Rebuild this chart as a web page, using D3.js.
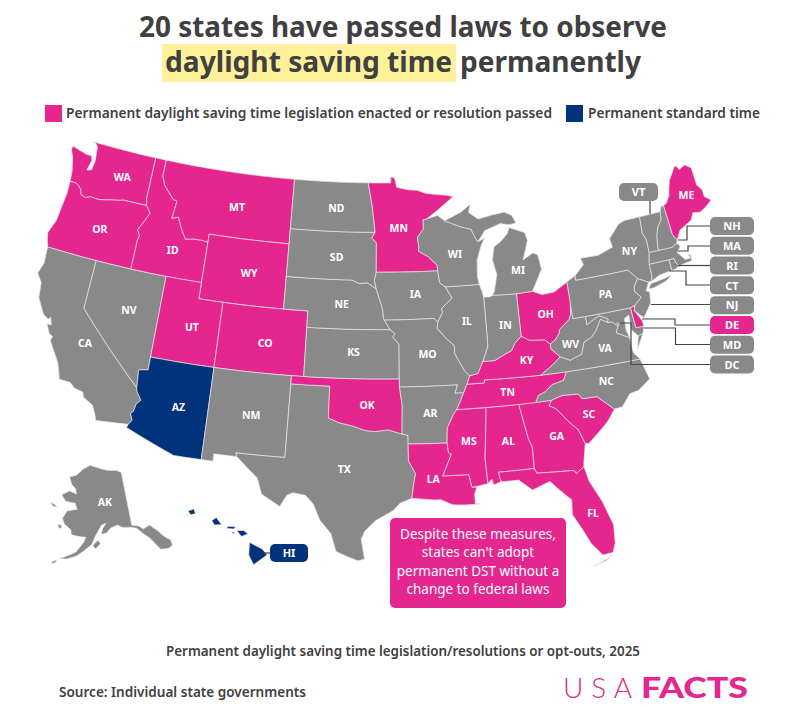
<!DOCTYPE html>
<html>
<head>
<meta charset="utf-8">
<script src="https://cdn.jsdelivr.net/npm/d3@7"></script>
<style>
  html, body { margin: 0; padding: 0; background: #fff; }
  text { font-family: "Noto Sans", sans-serif; }
</style>
</head>
<body>
<div id="map"></div>
<script>
// states by category
const dstStates = ["WA","OR","ID","MT","WY","UT","CO","OK","MN","LA","MS","AL","GA","FL","SC","TN","KY","OH","DE","ME"];
const standardStates = ["AZ","HI"];

// shared river borders, lon/lat
const columbia = [[-124,46.25],[-123.5,46.25],[-123.2,46.15],[-122.9,45.95],[-122.75,45.65],[-122.3,45.55],[-121.9,45.68],[-121.2,45.65],[-120.6,45.73],[-119.9,45.85],[-119.3,45.93],[-118.98,46],[-116.92,46]];
const snake = [[-116.92,46],[-116.46,45.6],[-116.85,44.95],[-117.2,44.45],[-117.03,44.2],[-116.93,44.1],[-117.03,43.8],[-117.03,42]];
const bitterroot = [[-116.05,48],[-115.7,47.45],[-114.7,46.7],[-114.35,46.65],[-114.5,45.55],[-113.95,45.7],[-113.45,44.95],[-113,44.45],[-112.3,44.55],[-111.5,44.55],[-111.05,44.48]];
const colorado = [[-114.63,35],[-114.57,34.8],[-114.14,34.3],[-114.44,34],[-114.53,33.55],[-114.72,33.4],[-114.5,33],[-114.72,32.72]];
const redRiver = [[-100,34.56],[-99.2,34.3],[-98.1,34.1],[-97.2,33.85],[-96.5,33.8],[-95.5,33.9],[-94.48,33.64]];
const missouriUpper = [[-95.31,40],[-95.85,40.7],[-95.9,41.2],[-96.1,41.7],[-96.45,42.49]];
const missArk = [[-90.3,35],[-90.6,34.7],[-91.1,33.9],[-91.17,33]];
const missLa = [[-91.17,33],[-91.1,32.4],[-90.9,32.3],[-91.6,31]];
const missIll = [[-91.42,40.38],[-91.5,40],[-90.75,39.3],[-90.2,38.9],[-90.2,38.4],[-89.5,37.3],[-89.15,37]];
const ohioKy = [[-89.15,37],[-88.5,37.1],[-88.05,37.8]];
const ohioKyIn = [[-88.05,37.8],[-87.1,37.8],[-86.3,38.1],[-85.7,38.3],[-85.4,38.7],[-84.82,39.1]];
const ohioKyOh = [[-84.82,39.1],[-84.2,38.8],[-83,38.7],[-82.6,38.4]];
const ohioWv = [[-82.6,38.4],[-82.2,38.6],[-81.8,38.95],[-81.7,39.2],[-80.85,39.7],[-80.65,40],[-80.52,40.64]];
const kyVaWv = [[-83.68,36.6],[-82.7,37.1],[-81.97,37.54]];
const vaWv = [[-81.97,37.54],[-81.25,37.25],[-80.3,37.5],[-79.95,38.2],[-79.3,38.42],[-78.87,38.76],[-78.35,39.4],[-77.83,39.13]];
const tnNc = [[-81.68,36.59],[-82,36.1],[-82.9,35.95],[-83.5,35.57],[-84.05,35.4],[-84.32,34.99]];
const savannah = [[-83.1,35],[-83.35,34.7],[-82.85,34.45],[-81.9,33.4],[-81.45,33],[-81.1,32.1]];
const delaware = [[-75.4,39.8],[-74.75,40.2],[-75.2,40.65],[-75.1,40.95],[-74.7,41.36]];
const umBorder = [[-91.22,43.5],[-91.25,43.85],[-92,44.4],[-92.8,44.75],[-92.75,45],[-92.85,45.6],[-92.3,46.1],[-92.3,46.66],[-92,46.7]];
const upWis = [[-90.4,46.55],[-89.1,46.13],[-88.1,45.9],[-87.8,45.35],[-87.6,45.1]];
const vtNh = [[-71.5,45],[-71.6,44.5],[-72.05,44.1],[-72.3,43.6],[-72.45,43],[-72.46,42.73]];
const rev = a => a.slice().reverse();

// outlines, each state is a list of rings
const stateOutlines = {
  WA: [[[-124.7,48.38],[-124.72,48.15],[-124.4,47.7],[-124.1,46.9],...columbia,[-117.04,46.4],[-117.04,49],[-123.03,49],[-122.75,48.95],[-122.5,48.75],[-122.45,48.4],[-122.35,47.9],[-122.45,47.3],[-122.85,47.2],[-122.65,47.85],[-122.8,48.13],[-123.3,48.13]]],
  OR: [[...rev(columbia).slice(0,-1),[-124,46.25],[-123.95,45.5],[-124.05,44.7],[-124.15,43.7],[-124.55,42.84],[-124.4,42.4],[-124.2,42],...rev(snake)]],
  CA: [[[-124.2,42],[-120,42],[-120,39],...colorado,[-117.12,32.53],[-117.25,32.85],[-117.6,33.4],[-118.4,33.75],[-118.5,34.03],[-119.2,34.15],[-119.6,34.42],[-120.47,34.45],[-120.65,34.9],[-120.9,35.4],[-121.9,36.6],[-121.8,36.85],[-122.1,36.95],[-122.5,37.5],[-122.15,37.5],[-122.35,37.95],[-122.5,37.8],[-122.97,38],[-123.7,38.9],[-123.85,39.8],[-124.35,40.3],[-124.1,41]]],
  NV: [[[-120,42],[-114.04,42],[-114.04,36.2],[-114.75,36.1],[-114.63,35],[-120,39]]],
  ID: [[[-117.04,49],[-116.05,49],...bitterroot,[-111.05,42],...rev(snake),[-117.04,46.4]]],
  MT: [[[-116.05,49],[-104.05,49],[-104.05,45],[-111.05,45],...rev(bitterroot)]],
  WY: [[[-111.05,45],[-104.05,45],[-104.05,41],[-111.05,41]]],
  UT: [[[-114.04,42],[-111.05,42],[-111.05,41],[-109.05,41],[-109.05,37],[-114.04,37]]],
  CO: [[[-109.05,41],[-102.05,41],[-102.05,37],[-109.05,37]]],
  AZ: [[[-114.04,37],[-109.05,37],[-109.05,31.33],[-111.07,31.33],[-114.8,32.5],...rev(colorado),[-114.75,36.1],[-114.04,36.2]]],
  NM: [[[-109.05,37],[-103,37],[-103.04,32],[-106.62,32],[-106.53,31.78],[-108.2,31.78],[-108.2,31.33],[-109.05,31.33]]],
  TX: [[[-103,36.5],[-100,36.5],...redRiver,[-94.04,33.55],[-94.04,31.99],[-93.55,31.2],[-93.7,30.6],[-93.85,29.7],[-94.7,29.4],[-95.2,28.95],[-96.4,28.35],[-97.15,27.7],[-97.4,27.2],[-97.15,25.96],[-97.6,25.85],[-98.2,26.05],[-99.1,26.4],[-99.5,27.5],[-100.3,28.3],[-100.8,29.25],[-101.4,29.77],[-102.3,29.88],[-102.7,29.7],[-103.15,28.98],[-104.5,29.65],[-104.9,30.6],[-106.53,31.78],[-106.62,32],[-103.04,32]]],
  OK: [[[-103,37],[-94.62,37],[-94.62,36.5],[-94.43,35.4],...rev(redRiver),[-100,36.5],[-103,36.5]]],
  KS: [[[-102.05,40],[-95.31,40],[-94.9,39.75],[-95.1,39.55],[-94.61,39.11],[-94.62,37],[-102.05,37]]],
  NE: [[[-104.05,43],[-98.5,43],[-97.9,42.8],[-97.2,42.85],...rev(missouriUpper),[-102.05,40],[-102.05,41],[-104.05,41]]],
  SD: [[[-104.05,45.94],[-96.56,45.94],[-96.85,45.6],[-96.45,45.3],[-96.45,43.5],[-96.6,43],[-96.45,42.49],[-97.2,42.85],[-97.9,42.8],[-98.5,43],[-104.05,43]]],
  ND: [[[-104.05,49],[-97.23,49],[-96.85,47.6],[-96.56,45.94],[-104.05,45.94]]],
  MN: [[[-97.23,49],[-95.15,49],[-95.15,49.38],[-94.8,49.3],[-94.6,48.72],[-93.5,48.55],[-92.7,48.5],[-92,48.3],[-91,48.2],[-90,48.1],[-89.5,48],[-90.8,47.3],...rev(umBorder),[-96.45,43.5],[-96.45,45.3],[-96.85,45.6],[-96.56,45.94],[-96.85,47.6]]],
  IA: [[[-96.45,43.5],[-91.22,43.5],[-91.1,42.75],[-90.65,42.5],[-90.15,41.8],[-91.05,41.2],[-91,40.95],[-91.42,40.38],[-91.73,40.61],[-95.77,40.58],[-95.85,40.7],[-95.9,41.2],[-96.1,41.7],[-96.45,42.49],[-96.6,43]]],
  MO: [[[-95.77,40.58],[-91.73,40.61],...missIll,[-89.4,36.5],[-89.7,36],[-90.37,36],[-90.15,36.5],[-94.62,36.5],[-94.62,37],[-94.61,39.11],[-95.1,39.55],[-94.9,39.75],[-95.31,40]]],
  AR: [[[-94.62,36.5],[-90.15,36.5],[-90.37,36],[-89.7,36],...missArk,[-94.04,33.02],[-94.04,33.55],[-94.48,33.64],[-94.43,35.4]]],
  LA: [[[-94.04,33.02],...missLa,[-89.73,31],[-89.55,30.2],[-89.2,30.2],[-89.4,29.8],[-89.4,29.2],[-89,29.15],[-90.1,29.15],[-91,29.2],[-91.8,29.55],[-92.3,29.55],[-93.85,29.7],[-93.7,30.6],[-93.55,31.2],[-94.04,31.99]]],
  MS: [[[-90.3,35],[-88.2,35],[-88.1,34.9],[-88.47,31.9],[-88.4,30.35],[-89.55,30.2],[-89.73,31],...rev(missLa),...rev(missArk).slice(1)]],
  AL: [[[-88.2,35],[-85.6,35],[-85.18,32.87],[-84.95,32.3],[-85,31],[-87.6,31],[-87.45,30.4],[-88,30.25],[-88.1,30.6],[-88.4,30.35],[-88.47,31.9],[-88.1,34.9]]],
  GA: [[[-85.6,35],...savannah,[-81.4,31],[-81.45,30.72],[-82.05,30.36],[-82.2,30.57],[-84.86,30.7],[-85,31],[-84.95,32.3],[-85.18,32.87]]],
  FL: [[[-87.6,31],[-85,31],[-84.86,30.7],[-82.2,30.57],[-82.05,30.36],[-81.45,30.72],[-81.25,29.8],[-80.55,28.4],[-80.05,26.9],[-80.15,25.75],[-80.4,25.2],[-81.1,25.15],[-81.75,25.95],[-82.2,26.9],[-82.75,27.9],[-82.65,28.8],[-83.4,29.5],[-84,30.1],[-85.3,29.7],[-86.2,30.4],[-87.45,30.4]],
       [[-81.8,24.55],[-81,24.75],[-80.4,25.1],[-80.9,24.85]]],
  SC: [[...savannah,[-80.85,32.05],[-79.9,32.7],[-79.2,33.2],[-78.55,33.86],[-79.67,34.8],[-80.8,34.82],[-81.05,35.15],[-82.3,35.2]]],
  NC: [[[-84.32,34.99],[-83.1,35],[-82.3,35.2],[-81.05,35.15],[-80.8,34.82],[-79.67,34.8],[-78.55,33.86],[-77.95,33.9],[-77.2,34.6],[-76.5,34.7],[-75.5,35.25],[-75.9,36.55],[-81.68,36.59],...tnNc.slice(1)]],
  TN: [[[-90.3,35],[-89.7,36],[-89.4,36.5],[-88.07,36.5],[-88.05,36.68],[-83.68,36.6],...tnNc,[-88.2,35]]],
  KY: [[[-89.4,36.5],[-89.15,37],[-88.5,37.1],[-88.05,37.8],...ohioKyIn.slice(1),...ohioKyOh.slice(1),[-82.6,38.1],[-81.97,37.54],[-82.7,37.1],[-83.68,36.6],[-88.05,36.68],[-88.07,36.5]]],
  VA: [[[-75.9,36.55],[-81.68,36.59],...kyVaWv,...vaWv.slice(1),[-77.5,39.1],[-77.05,38.8],[-77.3,38.4],[-76.35,37.95],[-76.3,37]],
       [[-75.95,37.15],[-75.25,38.03],[-75.65,37.95]]],
  WV: [[[-82.6,38.4],[-82.6,38.1],...vaWv,[-77.72,39.32],[-78.4,39.62],[-78.9,39.45],[-79.48,39.2],[-79.48,39.72],[-80.52,39.72],...rev(ohioWv)]],
  MD: [[[-79.48,39.72],[-75.79,39.72],[-75.7,38.46],[-75.05,38.45],[-75.25,38.03],[-75.65,37.95],[-76.1,38.4],[-76.05,39.3],[-76.45,39.15],[-76.5,38.5],[-76.35,37.95],[-77.3,38.4],[-77.05,38.8],[-77.5,39.1],[-77.83,39.13],[-77.72,39.32],[-78.4,39.62],[-78.9,39.45],[-79.48,39.2]]],
  DC: [[[-77.12,38.93],[-77.04,39],[-76.91,38.89],[-77.04,38.79]]],
  DE: [[[-75.79,39.72],[-75.4,39.8],[-75.55,39.5],[-75.1,38.8],[-75.05,38.45],[-75.7,38.46]]],
  PA: [[[-80.52,42],[-79.76,42.27],[-79.76,42],[-75.35,42],...rev(delaware),[-75.79,39.72],[-80.52,39.72]]],
  NJ: [[[-74.7,41.36],[-73.9,41],[-74.25,40.5],[-74,40.4],[-74.1,39.75],[-74.9,38.95],[-75.55,39.5],...delaware]],
  NY: [[[-79.76,42],[-79.76,42.27],[-78.9,42.85],[-79.05,43.27],[-77.5,43.25],[-76.5,43.5],[-76.2,43.55],[-76.3,44.1],[-75.3,44.85],[-74.7,45],[-73.35,45],[-73.45,44],[-73.25,43.55],[-73.27,42.75],[-73.5,42.05],[-73.5,41.3],[-73.65,41],[-73.9,41],[-74.7,41.36],[-75.35,42]],
       [[-74,40.6],[-73.75,40.87],[-72.6,40.98],[-71.9,41.07],[-72.5,40.8],[-73.6,40.58]]],
  CT: [[[-73.5,42.05],[-71.8,42.02],[-71.8,41.35],[-72.9,41.25],[-73.65,41],[-73.5,41.3]]],
  RI: [[[-71.8,42.02],[-71.38,42.02],[-71.33,41.75],[-71.12,41.5],[-71.5,41.37],[-71.8,41.35]]],
  MA: [[[-73.5,42.05],[-73.27,42.75],[-72.46,42.73],[-71.3,42.7],[-70.85,42.87],[-70.6,42.65],[-71,42.3],[-70.65,41.95],[-70.5,41.78],[-70,41.78],[-70.2,42.08],[-69.95,41.95],[-70,41.6],[-70.65,41.55],[-71.12,41.5],[-71.33,41.75],[-71.38,42.02],[-71.8,42.02]]],
  VT: [[[-73.35,45],...vtNh,[-73.27,42.75],[-73.25,43.55],[-73.45,44]]],
  NH: [[[-71.5,45],[-71.3,45.3],[-71.08,45.3],[-70.98,43.4],[-70.7,43.07],[-70.85,42.87],[-71.3,42.7],...rev(vtNh)]],
  ME: [[[-71.08,45.3],[-70.8,45.4],[-70.4,45.8],[-70.25,46.2],[-70,46.7],[-69.23,47.46],[-69.05,47.43],[-68.9,47.18],[-68.3,47.36],[-67.8,47.07],[-67.78,45.94],[-67.45,45.6],[-67.45,45.15],[-66.97,44.82],[-67.6,44.5],[-68.2,44.3],[-68.8,44.4],[-69.1,44],[-69.8,43.75],[-70.25,43.6],[-70.7,43.07],[-70.98,43.4]]],
  OH: [[[-84.82,39.1],[-84.8,41.7],[-83.45,41.73],[-82.7,41.45],[-81.7,41.5],[-80.52,41.98],...rev(ohioWv),...rev(ohioKyOh).slice(1)]],
  IN: [[[-87.53,41.71],[-87,41.67],[-86.8,41.76],[-84.8,41.7],[-84.82,39.1],...rev(ohioKyIn).slice(1),[-87.55,38.7],[-87.53,39.35]]],
  IL: [[[-87.53,41.71],[-87.53,39.35],[-87.55,38.7],[-88.05,37.8],...rev(ohioKy).slice(1),...rev(missIll).slice(1),[-91,40.95],[-91.05,41.2],[-90.15,41.8],[-90.65,42.5],[-87.8,42.5],[-87.6,42]]],
  WI: [[[-90.65,42.5],[-91.1,42.75],...umBorder,[-91,46.9],...upWis,[-87,45.3],[-87.35,44.85],[-87.8,44],[-87.9,43],[-87.8,42.5]]],
  MI: [[[-86.8,41.76],[-84.8,41.7],[-83.45,41.73],[-83.15,42.1],[-82.45,43],[-82.6,43.9],[-83,44.05],[-83.9,43.7],[-83.3,44.85],[-83.45,45.35],[-84.75,45.78],[-85,45.4],[-85.6,45],[-86.25,44.7],[-86.5,43.9],[-86.25,43],[-86.6,42]],
       [...upWis,[-86.9,45.75],[-85.5,46.08],[-84.75,45.95],[-84.1,46],[-84.4,46.5],[-85,46.75],[-86.1,46.67],[-87.4,46.5],[-88.2,46.95],[-88,47.45],[-88.9,47]]],
  AK: [[[-141,69.65],[-143,70.1],[-148,70.4],[-152,70.85],[-156.6,71.35],[-160,70.6],[-163,69.4],[-166.2,68.9],[-164.5,67.6],[-162.5,67],[-162,66.1],[-165,66.5],[-168.1,65.6],[-166,64.6],[-162,64.5],[-161,63.5],[-164.7,63],[-166,61.6],[-165,60.7],[-162.5,59.9],[-162,59],[-158.5,58.8],[-157.2,58.8],[-157.6,58],[-160,56.1],[-162.8,55.2],[-164.9,54.6],[-162.5,54.75],[-159.8,55.4],[-157.5,56.4],[-155,57.6],[-153.9,59],[-152.5,60.2],[-151.7,60.9],[-150,61.2],[-151.3,60.3],[-151.9,59.3],[-150,59.5],[-148.5,60.3],[-146,60.7],[-144.5,60.2],[-141.5,59.95],[-139.5,59.6],[-137.6,58.3],[-136.2,57.5],[-135,56.3],[-133.8,55],[-131.5,54.7],[-130,55],[-130,56],[-131.5,56.9],[-133,58.3],[-135,59.6],[-137.3,59.2],[-138.7,59.9],[-141,60.3]],
       [[-167.2,60.4],[-166,60.4],[-165.6,59.9],[-166.6,59.8]],
       [[-171.7,63.8],[-170,63.7],[-168.8,63.3],[-170.4,63.3]],
       [[-154.7,57.4],[-153,58.3],[-152.2,57.7],[-153.8,56.8]],
       [[-166.8,53.8],[-165.6,54.35],[-165.5,54],[-166.5,53.5]]],
  HI: [[[-155.9,20.25],[-155.1,19.85],[-154.8,19.5],[-155.65,18.92],[-155.95,19.5]],
       [[-156.7,20.95],[-156.25,20.95],[-156,20.75],[-156.4,20.6]],
       [[-157.3,21.2],[-156.75,21.18],[-156.9,21.05],[-157.3,21.08]],
       [[-157,20.9],[-156.82,20.82],[-156.95,20.74]],
       [[-158.27,21.55],[-157.98,21.72],[-157.65,21.3],[-158.1,21.28]],
       [[-159.78,22.1],[-159.4,22.23],[-159.3,21.95],[-159.6,21.88]]]
};

// chips on the right edge with their leader paths
const sideChips = ["NH","MA","RI","CT","NJ","DE","MD","DC"];

const width = 792, height = 726;
const pink = "#e5268f", navy = "#00337c", gray = "#898989", ink = "#404040";

const fillOf = s => dstStates.includes(s) ? pink : standardStates.includes(s) ? navy : gray;

// lower 48 and the two insets
const lower48 = d3.geoAlbers().scale(933).translate([374, 351]);
const alaska = d3.geoConicEqualArea().rotate([154, 0]).center([-2, 58.5]).parallels([55, 65]).scale(330).translate([89, 539]);
const hawaii = d3.geoConicEqualArea().rotate([157, 0]).center([-3, 19.9]).parallels([8, 18]).scale(970).translate([184, 548]);

// straight lines on the lon/lat grid, so parallels stay curved
function densify(ring) {
  const out = [];
  ring.forEach((p, i) => {
    const q = ring[(i + 1) % ring.length];
    const n = Math.ceil(Math.max(Math.abs(q[0] - p[0]), Math.abs(q[1] - p[1])) / 0.5) || 1;
    for (let k = 0; k < n; k++) {
      const t = k / n;
      out.push([p[0] + (q[0] - p[0]) * t, p[1] + (q[1] - p[1]) * t]);
    }
  });
  out.push(out[0]);
  return out;
}

function planar(projection) {
  return d3.geoPath(d3.geoTransform({
    point(x, y) {
      const p = projection([x, y]);
      this.stream.point(p[0], p[1]);
    }
  }));
}

const pathLower = planar(lower48), pathAk = planar(alaska), pathHi = planar(hawaii);
const pathFor = s => s === "AK" ? pathAk : s === "HI" ? pathHi : pathLower;

const features = Object.keys(stateOutlines).map(id => ({
  type: "Feature",
  id,
  geometry: { type: "MultiPolygon", coordinates: stateOutlines[id].map(r => [densify(r)]) }
}));

const svg = d3.select("#map").append("svg")
  .attr("width", width).attr("height", height)
  .style("display", "block");

// title
svg.append("rect").attr("x", 162).attr("y", 44).attr("width", 294).attr("height", 38).attr("fill", "#fff19a");
const title = svg.append("g").attr("fill", ink).attr("font-weight", 700).attr("font-size", 28);
title.append("text").attr("x", 139).attr("y", 37).attr("textLength", 528).attr("lengthAdjust", "spacingAndGlyphs").text("20 states have passed laws to observe");
title.append("text").attr("x", 165).attr("y", 72).attr("textLength", 287).attr("lengthAdjust", "spacingAndGlyphs").text("daylight saving time");
title.append("text").attr("x", 460).attr("y", 72).attr("textLength", 181).attr("lengthAdjust", "spacingAndGlyphs").text("permanently");

// legend
const legend = svg.append("g").attr("fill", ink).attr("font-weight", 600).attr("font-size", 14);
legend.append("rect").attr("x", 45).attr("y", 105).attr("width", 17).attr("height", 17).attr("fill", pink);
legend.append("text").attr("x", 66).attr("y", 118).attr("textLength", 486).attr("lengthAdjust", "spacingAndGlyphs").text("Permanent daylight saving time legislation enacted or resolution passed");
legend.append("rect").attr("x", 566).attr("y", 105).attr("width", 17).attr("height", 17).attr("fill", navy);
legend.append("text").attr("x", 588).attr("y", 118).attr("textLength", 172).attr("lengthAdjust", "spacingAndGlyphs").text("Permanent standard time");

// states
svg.append("g").selectAll("path")
  .data(features)
  .enter()
  .append("path")
  .attr("d", d => pathFor(d.id)(d))
  .attr("fill", d => fillOf(d.id))
  .attr("stroke", "#e6e6e6")
  .attr("stroke-width", 0.7)
  .attr("stroke-linejoin", "round");

// leader lines for the small states
const leaders = [
  [[710,226],[687,226],[687,240],[678,240]],
  [[710,246],[688,246],[688,251],[678,251]],
  [[710,265.5],[678,265.5]],
  [[710,285],[686,285],[686,271],[669,271]],
  [[710,304.5],[651,304.5]],
  [[710,325],[675,325],[675,319],[642,319]],
  [[710,344.5],[675.5,344.5],[675.5,328],[644,328]],
  [[710,364.5],[631,364.5],[631,323],[620,323]],
  [[650,200],[650,214]],
  [[263,553],[272,553]]
];
svg.append("g").selectAll("path")
  .data(leaders)
  .enter()
  .append("path")
  .attr("d", d3.line())
  .attr("fill", "none")
  .attr("stroke", "#444")
  .attr("stroke-width", 1.2);

// chips
const chipY = d3.scalePoint().domain(sideChips).range([226, 364.5]);
const chips = sideChips.map(id => ({ id, x: 710, y: chipY(id) - 9, w: 44 }))
  .concat([{ id: "VT", x: 619, y: 183, w: 39 }, { id: "HI", x: 270, y: 544, w: 38 }]);
const chip = svg.append("g").selectAll("g")
  .data(chips)
  .enter()
  .append("g");
chip.append("rect")
  .attr("x", d => d.x).attr("y", d => d.y)
  .attr("width", d => d.w).attr("height", 18)
  .attr("rx", 5)
  .attr("fill", d => fillOf(d.id));
chip.append("text")
  .attr("x", d => d.x + d.w / 2).attr("y", d => d.y + 13.2)
  .attr("text-anchor", "middle")
  .attr("font-size", 11).attr("font-weight", 700).attr("fill", "#fff")
  .text(d => d.id);

// labels at the centroid with small nudges
const nudge = {
  WA:[9,3], OR:[2,1], CA:[2,5], NV:[3,-3], ID:[6,13], MT:[7,4], WY:[4,1], UT:[5,2], CO:[3,3], AZ:[5,1],
  NM:[4,1], TX:[8,0], OK:[5,3], KS:[2,-2], NE:[6,1], SD:[4,2], ND:[4,1], MN:[-3,2], IA:[4,-1], MO:[1,-1],
  AR:[2,1], LA:[-5,3], MS:[1,-4], AL:[2,-1], GA:[4,-3], FL:[18,11], SC:[5,0], NC:[5,-2], TN:[0,1], KY:[8,-2],
  IL:[1,-5], IN:[4,0], OH:[2,0], MI:[13,17], WI:[4,3], NY:[7,-4], PA:[3,0], WV:[-4,8], VA:[7,-3], ME:[3,-4], AK:[3,-5]
};
const chipIds = new Set(chips.map(d => d.id));
svg.append("g").selectAll("text")
  .data(features.filter(d => !chipIds.has(d.id)))
  .enter()
  .append("text")
  .attr("transform", d => {
    const c = pathFor(d.id).centroid(d);
    const n = nudge[d.id] || [0, 0];
    return "translate(" + (c[0] + n[0]) + "," + (c[1] + n[1]) + ")";
  })
  .attr("dy", "0.35em")
  .attr("text-anchor", "middle")
  .attr("font-size", 10.5).attr("font-weight", 700).attr("fill", "#fff")
  .text(d => d.id);

// callout
svg.append("rect").attr("x", 390).attr("y", 518).attr("width", 176).attr("height", 90).attr("rx", 5).attr("fill", pink);
const calloutLines = ["Despite these measures,", "states can't adopt", "permanent DST without a", "change to federal laws"];
svg.append("g").selectAll("text")
  .data(calloutLines)
  .enter()
  .append("text")
  .attr("x", 478)
  .attr("y", (d, i) => 539 + i * 18.3)
  .attr("text-anchor", "middle")
  .attr("font-size", 13.5).attr("fill", "#fff")
  .text(d => d);

// footer
svg.append("text").attr("x", 166).attr("y", 656).attr("textLength", 474).attr("lengthAdjust", "spacingAndGlyphs")
  .attr("font-size", 13.5).attr("font-weight", 600).attr("fill", ink)
  .text("Permanent daylight saving time legislation/resolutions or opt-outs, 2025");
svg.append("text").attr("x", 59).attr("y", 697).attr("textLength", 247).attr("lengthAdjust", "spacingAndGlyphs")
  .attr("font-size", 13.5).attr("font-weight", 600).attr("fill", ink)
  .text("Source: Individual state governments");
svg.append("text").attr("x", 563).attr("y", 698).attr("textLength", 69).style("font-family", "Lato").attr("font-weight", 300)
  .attr("font-size", 28).attr("fill", pink).text("USA");
svg.append("text").attr("x", 641).attr("y", 698).attr("textLength", 107).attr("lengthAdjust", "spacingAndGlyphs").style("font-family", "Lato").attr("font-weight", 900)
  .attr("font-size", 28).attr("fill", pink).text("FACTS");
</script>
</body>
</html>
